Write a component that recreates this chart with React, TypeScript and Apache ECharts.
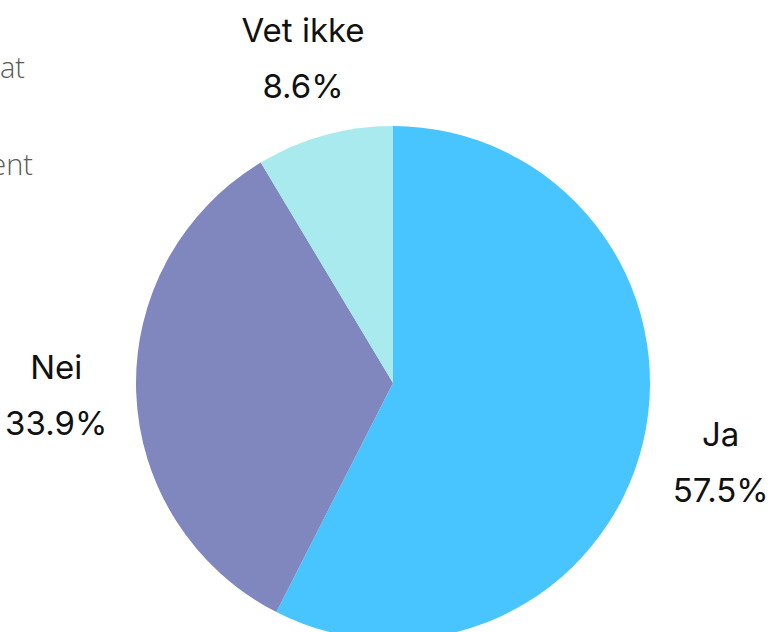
import React, { useEffect, useRef } from "react";
import * as echarts from "echarts";

const categories = ["Ja", "Nei", "Vet ikke"];
const values = [57.5, 33.9, 8.6];
const colors = ["#48C4FE", "#7F87BE", "#A9EAEE"];

export default function App() {
  const ref = useRef<HTMLDivElement>(null);
  useEffect(() => {
    document.body.style.margin = "0";
    const chart = echarts.init(ref.current!, undefined, { renderer: "svg" });
    chart.setOption({
      animation: false,
      graphic: [
        {
          type: "text",
          right: 746,
          top: 52,
          style: { text: "at", font: "300 29px 'Open Sans'", fill: "#5a5a5a", textAlign: "right" },
        },
        {
          type: "text",
          right: 738,
          top: 149,
          style: { text: "ent", font: "300 29px 'Open Sans'", fill: "#5a5a5a", textAlign: "right" },
        },
      ],
      series: [
        {
          type: "pie",
          center: [393, 383],
          radius: 257,
          startAngle: 90,
          clockwise: true,
          avoidLabelOverlap: false,
          data: categories.map((c, i) => ({ name: c, value: values[i], itemStyle: { color: colors[i] } })),
          label: {
            show: true,
            position: "outside",
            formatter: (p: any) => `${p.name}\n${p.value.toFixed(1)}%`,
            fontFamily: "Inter",
            fontSize: 33,
            lineHeight: 56,
            color: "#111",
            distanceToLabelLine: 0,
          },
          labelLine: { show: false, length: 80, length2: 0 },
          labelLayout: () => ({ align: "center", verticalAlign: "middle" }),
        },
      ],
    });
    return () => chart.dispose();
  }, []);
  return <div ref={ref} style={{ position: "absolute", left: 0, top: 0, width: 771, height: 632 }} />;
}
